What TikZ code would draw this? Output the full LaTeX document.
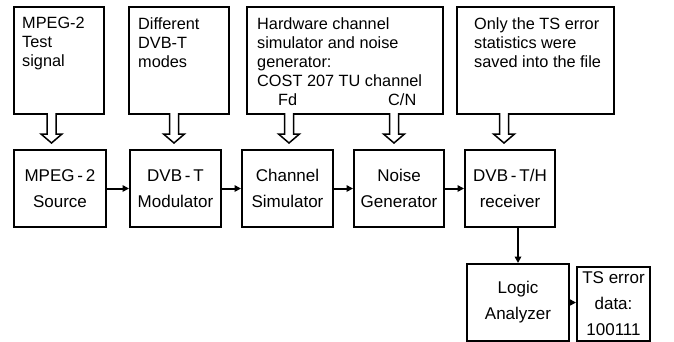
\documentclass[tikz,border=0pt]{standalone}
\usepackage{fontspec}
\setmainfont{Liberation Sans}
\usetikzlibrary{arrows.meta}
\begin{document}
\begin{tikzpicture}[x=1pt,y=-1pt,
  box/.style={draw,line width=2pt,inner sep=0pt,anchor=north west},
  stage/.style={box,align=center,font=\fontsize{17}{26}\selectfont},
  note/.style={anchor=north west,inner sep=0pt,align=left,font=\fontsize{16.3}{19}\selectfont},
  flow/.style={line width=2pt,-{Triangle[length=6.5pt,width=6.5pt]}},
  hollow/.pic={\draw[line width=1.5pt,fill=white,line join=miter]
      (-4.5,0) -- (-4.5,21) -- (-10.5,21) -- (0,30) -- (10.5,21) -- (4.5,21) -- (4.5,0);}]
\useasboundingbox (0,0) rectangle (674,341);

% input description boxes
\node[box,minimum width=90pt,minimum height=107pt]  (in1) at (13,6) {};
\node[box,minimum width=100pt,minimum height=107pt] (in2) at (128,6) {};
\node[box,minimum width=196pt,minimum height=107pt] (in3) at (246,6) {};
\node[box,minimum width=157pt,minimum height=107pt] (in4) at (456,6) {};

\node[note] (txt1) at (22,17) {MPEG-2\\Test\\signal};
\node[note] (txt2) at (138,17) {Different\\DVB-T\\modes};
\node[note] (txt3) at (257,17) {Hardware channel\\simulator and noise\\generator:\\COST 207 TU channel};
\node[note] (txt4) at (474,17) {Only the TS error\\statistics were\\saved into the file};
\node[note] (fd) at (278,93) {Fd};
\node[note] (cn) at (388,93) {C/N};

% processing chain
\node[stage,minimum width=92pt,minimum height=77pt] (src) at (13,149) {MPEG\,-\,2\\Source};
\node[stage,minimum width=91pt,minimum height=77pt] (mod) at (129,149) {DVB\,-\,T\\Modulator};
\node[stage,minimum width=91pt,minimum height=77pt] (chs) at (241,149) {Channel\\Simulator};
\node[stage,minimum width=90pt,minimum height=77pt] (nsg) at (353,149) {Noise\\Generator};
\node[stage,minimum width=90pt,minimum height=77pt] (rcv) at (464,149) {DVB\,-\,T/H\\receiver};
\node[stage,minimum width=102pt,minimum height=77pt] (lan) at (466,263) {Logic\\Analyzer};
\node[stage,minimum width=73pt,minimum height=74pt] (tse) at (576,266) {TS error\\data:\\100111};

% hollow input arrows
\pic at (51.5,113) {hollow};
\pic at (174,113) {hollow};
\pic at (289,113) {hollow};
\pic at (394,113) {hollow};
\pic at (504,113) {hollow};

% signal flow
\draw[flow] (src.east) -- (mod.west);
\draw[flow] (mod.east) -- (chs.west);
\draw[flow] (chs.east) -- (nsg.west);
\draw[flow] (nsg.east) -- (rcv.west);
\draw[flow] (rcv.south -| lan.north) -- (lan.north);
\draw[flow] (lan.east) -- (tse.west |- lan.east);
\end{tikzpicture}
\end{document}
